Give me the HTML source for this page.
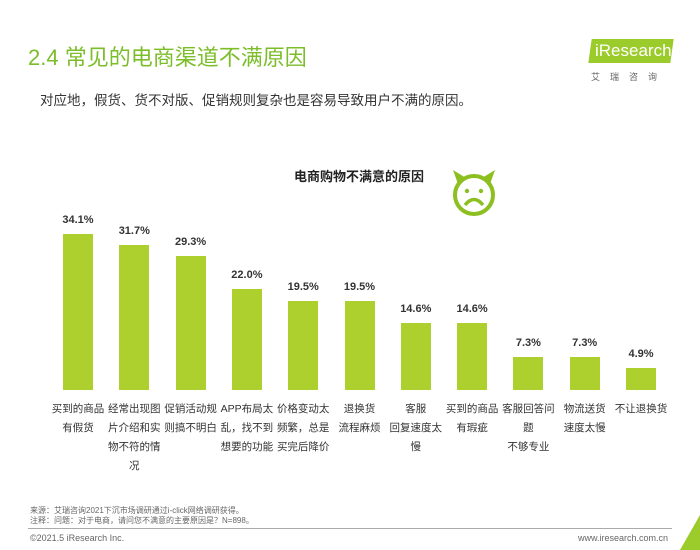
<!DOCTYPE html>
<html><head><meta charset="utf-8"><style>
body{margin:0;width:700px;height:550px;background:#fff;font-family:"Liberation Sans","Noto Sans CJK SC",sans-serif;position:relative;overflow:hidden}
.a{position:absolute;white-space:nowrap}
.bar{position:absolute;background:#aed02f;width:30px}
.v{position:absolute;width:56px;text-align:center;font-size:11px;font-weight:bold;color:#333}
.c{position:absolute;width:54px;text-align:center;font-size:10.5px;color:#333;line-height:19px;white-space:normal}
</style></head><body>
<div class="a" style="left:28px;top:40px;font-size:22px;color:#7cbd2a">2.4 常见的电商渠道不满原因</div>
<div class="a" style="left:40px;top:89px;font-size:13.5px;color:#333">对应地，假货、货不对版、促销规则复杂也是容易导致用户不满的原因。</div>
<div class="a" style="left:590px;top:39px;width:82px;height:24px;background:#9ccb2c;transform:skewX(-8deg)"></div>
<div class="a" style="left:595px;top:41px;font-size:17px;color:#fff">iResearch</div>
<div class="a" style="left:591px;top:70px;font-size:9px;color:#666;letter-spacing:10px">艾瑞咨询</div>
<div class="a" style="left:294px;top:166px;font-size:13px;font-weight:bold;color:#222">电商购物不满意的原因</div>
<svg class="a" style="left:440px;top:162px" width="70" height="70">
<circle cx="34" cy="33" r="19" fill="none" stroke="#8cbf1f" stroke-width="4"/>
<path d="M18 22 L13 8 L26 16Z M50 22 L55 8 L42 16Z" fill="#8cbf1f"/>
<circle cx="27" cy="29" r="2.2" fill="#8cbf1f"/><circle cx="41" cy="29" r="2.2" fill="#8cbf1f"/>
<path d="M25 43 Q34 32 43 43" fill="none" stroke="#8cbf1f" stroke-width="3.5"/>
</svg>
<div id="ch"></div>
<script>
var d=[[34.1,"买到的商品<br>有假货"],[31.7,"经常出现图片介绍和实物不符的情况"],[29.3,"促销活动规则搞不明白"],[22.0,"APP布局太乱，找不到想要的功能"],[19.5,"价格变动太频繁，总是买完后降价"],[19.5,"退换货<br>流程麻烦"],[14.6,"客服<br>回复速度太慢"],[14.6,"买到的商品<br>有瑕疵"],[7.3,"客服回答问题<br>不够专业"],[7.3,"物流送货<br>速度太慢"],[4.9,"不让退换货"]];
var h="";d.forEach(function(e,i){var x=63+i*56.3,ht=e[0]*4.57,cx=x+15;
h+='<div class="bar" style="left:'+x+'px;top:'+(390-ht)+'px;height:'+ht+'px"></div>';
h+='<div class="v" style="left:'+(cx-28)+'px;top:'+(390-ht-20)+'px">'+e[0].toFixed(1)+'%</div>';
h+='<div class="c" style="left:'+(cx-27)+'px;top:400px">'+e[1]+'</div>';});
document.getElementById("ch").innerHTML=h;
</script>
<div class="a" style="left:30px;top:506px;font-size:8px;color:#666;line-height:10px">来源：艾瑞咨询2021下沉市场调研通过i-click网络调研获得。<br>注释：问题：对于电商，请问您不满意的主要原因是？N=898。</div>
<div class="a" style="left:28px;top:528px;width:644px;height:1px;background:#aaa"></div>
<div class="a" style="left:30px;top:533px;font-size:9px;color:#666">©2021.5 iResearch Inc.</div>
<div class="a" style="right:32px;top:533px;font-size:9px;color:#666">www.iresearch.com.cn</div>
<svg class="a" style="left:680px;top:515px" width="20" height="35"><path d="M20 0 L20 35 L0 35Z" fill="#9ccb2c"/></svg>
</body></html>
